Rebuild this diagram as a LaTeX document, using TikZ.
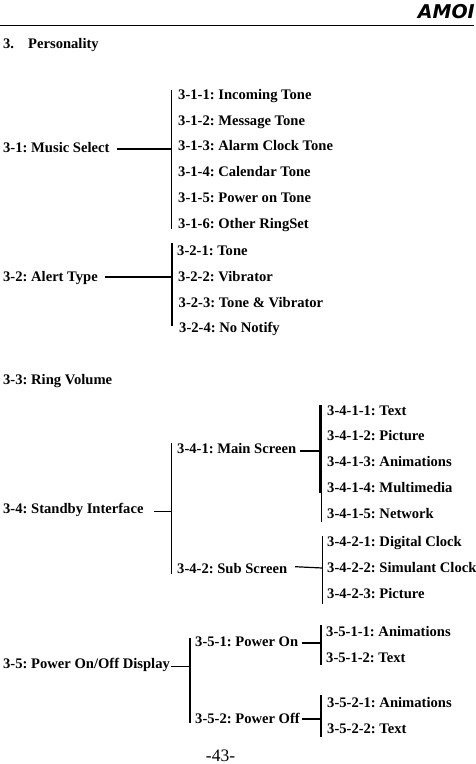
\documentclass[tikz,border=0pt]{standalone}
\usepackage{fontspec}
\setmainfont{Liberation Serif}
\newfontfamily\logofont{DejaVu Sans}
\usetikzlibrary{positioning}
\tikzset{
  item/.style={anchor=base west, inner sep=0pt, font=\bfseries\frenchspacing\fontsize{14.6}{16}\selectfont},
  link/.style={draw=black, line width=1.2pt},
  heavy/.style={draw=black, line width=2.4pt},
  rulebar/.style={draw=black, line width=1pt},
}
\begin{document}
\begin{tikzpicture}[x=1pt, y=-1pt]
    \useasboundingbox (0,0) rectangle (476,764);

    % header
    \coordinate (ruleL) at (0,25);
    \coordinate (ruleR) at (474,25);
    \draw[rulebar] (ruleL) -- (ruleR);
    \node[anchor=base east, inner sep=0pt, font=\logofont\bfseries\itshape\fontsize{19}{19}\selectfont] (logo) at (475,18) {AMOI};
    \node[item] (secnum) at (3,48) {3.};
    \node[item] (sectitle) at (28,48) {Personality};

    % 3-1
    \node[item] (music) at (3,152) {3-1: Music Select};
    \node[item] (m1) at (178,99) {3-1-1: Incoming Tone};
    \node[item] (m2) at (178,125) {3-1-2: Message Tone};
    \node[item] (m3) at (178,150) {3-1-3: Alarm Clock Tone};
    \node[item] (m4) at (178,176) {3-1-4: Calendar Tone};
    \node[item] (m5) at (178,202) {3-1-5: Power on Tone};
    \node[item] (m6) at (178,228) {3-1-6: Other RingSet};
    \coordinate (musictop) at (171.7,90);
    \coordinate (musicbot) at (171.7,229);
    \coordinate (musicjoin) at (171.7,149);
    \draw[link] (musictop) -- (musicbot);
    \draw[link] ([xshift=7pt]music.east |- musicjoin) -- (musicjoin);

    % 3-2
    \node[item] (alert) at (3,281) {3-2: Alert Type};
    \node[item] (a1) at (177,255) {3-2-1: Tone};
    \node[item] (a2) at (178,281) {3-2-2: Vibrator};
    \node[item] (a3) at (178.5,307) {3-2-3: Tone \& Vibrator};
    \node[item] (a4) at (179,332) {3-2-4: No Notify};
    \coordinate (alerttop) at (172,243);
    \coordinate (alertbot) at (172,326);
    \coordinate (alertjoin) at (172,277);
    \draw[link] (alerttop) -- (alertbot);
    \draw[link, line width=1.5pt] ([xshift=7pt]alert.east |- alertjoin) -- (alertjoin);

    % 3-3
    \node[item] (ring) at (3,384) {3-3: Ring Volume};

    % 3-4
    \node[item] (standby) at (3,513) {3-4: Standby Interface};
    \node[item] (mainscr) at (177,453) {3-4-1: Main Screen};
    \node[item] (subscr) at (177,573) {3-4-2: Sub Screen};
    \coordinate (standbytop) at (171.7,443);
    \coordinate (standbybot) at (171.7,574);
    \coordinate (standbyjoin) at (171.7,511.7);
    \draw[link] (standbytop) -- (standbybot);
    \draw[link] ([xshift=10pt]standby.east |- standbyjoin) -- (standbyjoin);

    \node[item] (t1) at (327,415) {3-4-1-1: Text};
    \node[item] (t2) at (327,440) {3-4-1-2: Picture};
    \node[item] (t3) at (327,466) {3-4-1-3: Animations};
    \node[item] (t4) at (327,492) {3-4-1-4: Multimedia};
    \node[item] (t5) at (327,518) {3-4-1-5: Network};
    \coordinate (maintop) at (320.3,405);
    \coordinate (mainmid) at (320.3,492.5);
    \coordinate (mainthin) at (321.5,492);
    \coordinate (mainbot) at (321.5,522);
    \coordinate (mainjoin) at (320.3,451);
    \draw[heavy] (maintop) -- (mainmid);
    \draw[link, line width=.8pt] (mainthin) -- (mainbot);
    \draw[link] ([xshift=4pt]mainscr.east |- mainjoin) -- (mainjoin);

    \node[item] (c1) at (327,546) {3-4-2-1: Digital Clock};
    \node[item] (c2) at (327,572) {3-4-2-2: Simulant Clock};
    \node[item] (c3) at (327,598) {3-4-2-3: Picture};
    \coordinate (subtop) at (322.5,536);
    \coordinate (subbot) at (322.5,604);
    \coordinate (subjoin) at (322.5,568);
    \coordinate (subtail) at (295,566.7);
    \draw[link] (subtop) -- (subbot);
    \draw[link] (subtail) -- (subjoin);

    % 3-5
    \node[item] (power) at (3,668) {3-5: Power On/Off Display};
    \node[item] (pon) at (195,646) {3-5-1: Power On};
    \node[item] (poff) at (195,723) {3-5-2: Power Off};
    \coordinate (powertop) at (190,638);
    \coordinate (powerbot) at (190,723);
    \coordinate (powerjoin) at (190,666.7);
    \draw[link] (powertop) -- (powerbot);
    \draw[link] ([xshift=1pt]power.east |- powerjoin) -- (powerjoin);

    \node[item] (on1) at (326,636) {3-5-1-1: Animations};
    \node[item] (on2) at (326,662) {3-5-1-2: Text};
    \coordinate (ontop) at (321,625);
    \coordinate (onbot) at (321,665);
    \coordinate (onjoin) at (321,643);
    \draw[link] (ontop) -- (onbot);
    \draw[link] ([xshift=4pt]pon.east |- onjoin) -- (onjoin);

    \node[item] (off1) at (327,707) {3-5-2-1: Animations};
    \node[item] (off2) at (327,733) {3-5-2-2: Text};
    \coordinate (offtop) at (321,695);
    \coordinate (offbot) at (321,737);
    \coordinate (offjoin) at (321,719);
    \draw[link] (offtop) -- (offbot);
    \draw[link] ([xshift=2pt]poff.east |- offjoin) -- (offjoin);

    % page number
    \node[anchor=base, inner sep=0pt, font=\fontsize{17.5}{18}\selectfont] (pagenum) at (220.5,761.5) {-43-};
\end{tikzpicture}
\end{document}
